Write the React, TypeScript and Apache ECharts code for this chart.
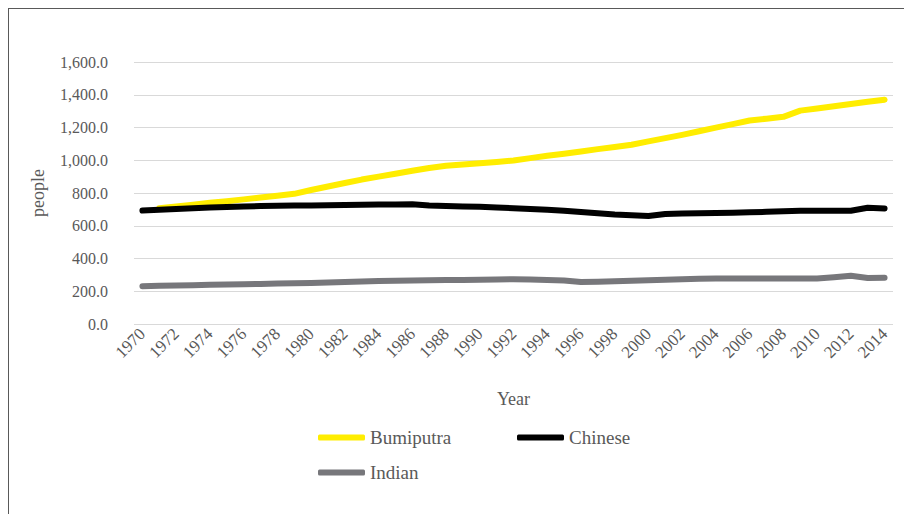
import React, { useEffect, useRef } from "react";
import * as echarts from "echarts";

const years = [
  "1970","1971","1972","1973","1974","1975","1976","1977","1978","1979",
  "1980","1981","1982","1983","1984","1985","1986","1987","1988","1989",
  "1990","1991","1992","1993","1994","1995","1996","1997","1998","1999",
  "2000","2001","2002","2003","2004","2005","2006","2007","2008","2009",
  "2010","2011","2012","2013","2014",
];

const seriesNames = ["Bumiputra", "Chinese", "Indian"];

const bumiputra = [
  null, 707, 718, 729, 740, 750, 761, 772, 783, 795,
  818, 840, 861, 882, 900, 918, 936, 953, 966, 974,
  982, 990, 999, 1013, 1027, 1040, 1054, 1068, 1081, 1095,
  1115, 1135, 1155, 1177, 1199, 1221, 1243, 1254, 1265, 1303,
  1316, 1330, 1343, 1357, 1370,
];

const chinese = [
  693, 698, 703, 707, 711, 714, 717, 720, 722, 723,
  724, 725, 727, 729, 730, 730, 731, 723, 720, 717,
  716, 712, 707, 702, 697, 692, 684, 676, 668, 664,
  660, 672, 675, 677, 678, 680, 682, 685, 688, 691,
  692, 692, 692, 710, 706,
];

const indian = [
  231, 233, 235, 237, 239, 241, 243, 245, 247, 249,
  251, 254, 257, 259, 262, 264, 266, 267, 268, 269,
  270, 272, 273, 271, 269, 266, 256, 258, 261, 264,
  267, 270, 273, 276, 278, 278, 278, 278, 278, 278,
  278, 286, 295, 281, 282,
];

const FONT = "Liberation Serif";
const TXT = "#595959";

export default function App() {
  const ref = useRef<HTMLDivElement>(null);
  useEffect(() => {
    if (!ref.current) return;
    const chart = echarts.init(ref.current, null, { renderer: "svg" });
    const fmt = (v: number) =>
      v.toLocaleString("en-US", { minimumFractionDigits: 1, maximumFractionDigits: 1 });
    const lineSeries = (name: string, data: (number | null)[], color: string) => ({
      name,
      type: "line",
      data,
      showSymbol: false,
      symbol: "none",
      connectNulls: false,
      lineStyle: { color, width: 6, cap: "round", join: "round" },
      itemStyle: { color },
    });
    const legPos = [
      [313, 436],
      [512, 436],
      [313, 471],
    ];
    const leg = (name: string, left: number, cy: number) => ({
      left,
      top: cy - 13,
      icon: "roundRect",
      itemWidth: 47,
      itemHeight: 6,
      itemTextGap: 5,
      textStyle: { color: TXT, fontSize: 19, fontFamily: FONT },
      data: [name],
    });
    chart.setOption({
      animation: false,
      textStyle: { fontFamily: FONT },
      grid: { left: 134, right: 11, top: 62, bottom: 190, containLabel: false },
      xAxis: {
        type: "category",
        data: years,
        boundaryGap: true,
        name: "Year",
        nameLocation: "middle",
        nameGap: 66,
        nameTextStyle: { color: TXT, fontSize: 18, fontFamily: FONT },
        axisLine: { show: false },
        axisTick: { show: false },
        axisLabel: {
          interval: 1,
          rotate: 45,
          margin: 7,
          color: TXT,
          fontSize: 17,
          fontFamily: FONT,
        },
      },
      yAxis: {
        type: "value",
        min: 0,
        max: 1600,
        interval: 200,
        name: "people",
        nameLocation: "middle",
        nameGap: 87,
        nameTextStyle: { color: TXT, fontSize: 18, fontFamily: FONT },
        axisLine: { show: false },
        axisTick: { show: false },
        axisLabel: { color: TXT, fontSize: 16, fontFamily: FONT, margin: 26, formatter: fmt },
        splitLine: { lineStyle: { color: "#d9d9d9", width: 1 } },
      },
      legend: seriesNames.map((n, i) => leg(n, legPos[i][0], legPos[i][1])),
      series: [
        lineSeries(seriesNames[0], bumiputra, "#FFED00"),
        lineSeries(seriesNames[1], chinese, "#000000"),
        lineSeries(seriesNames[2], indian, "#77777B"),
      ],
    });
    return () => chart.dispose();
  }, []);
  return (
    <div style={{ position: "absolute", left: 0, top: 0, width: 904, height: 514, background: "#fff", overflow: "hidden" }}>
      <div ref={ref} style={{ position: "absolute", left: 0, top: 0, width: 904, height: 514 }} />
      <div
        style={{
          position: "absolute",
          left: 8,
          top: 8,
          width: 896,
          height: 506,
          borderLeft: "1px solid #595959",
          borderTop: "1px solid #595959",
          boxSizing: "border-box",
          pointerEvents: "none",
        }}
      />
    </div>
  );
}
